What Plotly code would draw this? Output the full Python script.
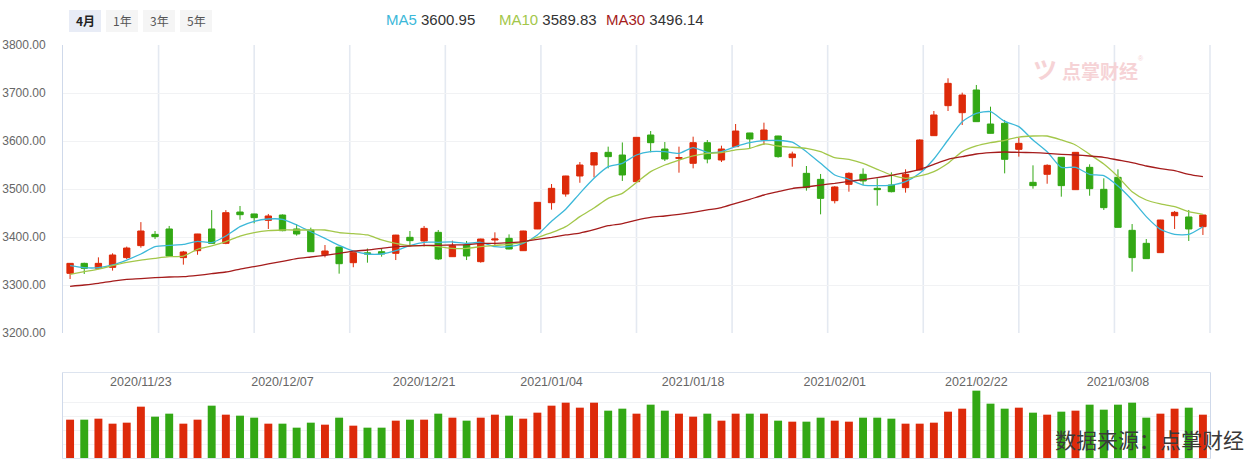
import plotly.graph_objects as go

dates = ["2020-11-16","2020-11-17","2020-11-18","2020-11-19","2020-11-20","2020-11-23","2020-11-24","2020-11-25","2020-11-26","2020-11-27",
         "2020-11-30","2020-12-01","2020-12-02","2020-12-03","2020-12-04","2020-12-07","2020-12-08","2020-12-09","2020-12-10","2020-12-11",
         "2020-12-14","2020-12-15","2020-12-16","2020-12-17","2020-12-18","2020-12-21","2020-12-22","2020-12-23","2020-12-24","2020-12-25",
         "2020-12-28","2020-12-29","2020-12-30","2020-12-31","2021-01-04","2021-01-05","2021-01-06","2021-01-07","2021-01-08","2021-01-11",
         "2021-01-12","2021-01-13","2021-01-14","2021-01-15","2021-01-18","2021-01-19","2021-01-20","2021-01-21","2021-01-22","2021-01-25",
         "2021-01-26","2021-01-27","2021-01-28","2021-01-29","2021-02-01","2021-02-02","2021-02-03","2021-02-04","2021-02-05","2021-02-08",
         "2021-02-09","2021-02-10","2021-02-18","2021-02-19","2021-02-22","2021-02-23","2021-02-24","2021-02-25","2021-02-26","2021-03-01",
         "2021-03-02","2021-03-03","2021-03-04","2021-03-05","2021-03-08","2021-03-09","2021-03-10","2021-03-11","2021-03-12","2021-03-15",
         "2021-03-16"]

open_ = [3324.3,3345.1,3334.7,3336.8,3357.0,3382.0,3405.5,3416.7,3357.0,3371.5,
         3416.7,3386.8,3452.0,3448.0,3434.7,3445.8,3416.7,3414.6,3363.2,3379.0,
         3346.5,3367.0,3369.4,3366.0,3399.3,3391.7,3409.7,3359.0,3383.3,3348.6,
         3393.7,3397.2,3371.5,3416.7,3471.5,3489.6,3527.1,3550.0,3576.4,3570.8,
         3515.3,3612.5,3583.3,3563.9,3553.5,3596.5,3560.4,3588.2,3616.7,3602.1,
         3610.4,3565.3,3532.6,3520.1,3475.7,3509.7,3530.6,3501.4,3508.3,3502.8,
         3539.6,3611.1,3673.6,3659.0,3706.3,3635.4,3636.8,3582.6,3513.9,3530.6,
         3566.0,3498.6,3545.1,3499.3,3524.3,3413.9,3386.8,3367.4,3444.4,3441.7,
         3421.5]
high = [3345.5,3346.5,3357.6,3366.0,3380.0,3431.0,3412.5,3423.0,3371.0,3406.5,
        3456.0,3456.0,3464.6,3448.5,3448.0,3447.0,3427.0,3419.5,3383.3,3379.5,
        3367.8,3376.0,3376.4,3404.5,3412.5,3423.0,3414.6,3392.4,3391.7,3396.5,
        3409.7,3405.5,3413.0,3472.5,3510.4,3527.5,3556.2,3576.2,3588.2,3597.0,
        3608.0,3620.8,3597.9,3588.2,3609.0,3602.0,3590.3,3635.4,3617.0,3638.2,
        3610.8,3577.8,3547.9,3531.3,3506.0,3534.7,3543.0,3522.2,3534.7,3541.0,
        3603.5,3662.5,3730.6,3700.7,3716.7,3671.5,3643.8,3607.0,3549.3,3551.4,
        3566.3,3576.8,3551.4,3522.2,3541.0,3427.0,3395.8,3435.8,3454.2,3456.3,
        3446.2]
low = [3312.5,3323.0,3333.0,3330.0,3354.0,3377.8,3395.8,3360.0,3342.4,3363.0,
       3386.0,3385.0,3436.0,3428.5,3416.7,3412.0,3402.8,3369.0,3357.6,3323.6,
       3337.0,3346.5,3359.0,3352.0,3381.0,3380.0,3352.0,3358.5,3352.0,3346.5,
       3383.3,3374.5,3371.0,3416.5,3457.0,3484.0,3513.0,3524.3,3543.0,3516.7,
       3515.0,3576.4,3558.3,3534.0,3543.0,3553.5,3556.2,3587.8,3584.7,3591.7,
       3565.3,3546.5,3496.5,3447.2,3470.0,3494.4,3508.3,3465.3,3493.0,3492.4,
       3539.0,3610.8,3662.5,3633.3,3640.0,3615.5,3532.6,3567.4,3500.7,3511.0,
       3484.0,3498.3,3486.0,3456.3,3420.0,3327.8,3354.5,3367.0,3416.7,3391.7,
       3404.2]
close = [3345.1,3334.7,3345.1,3362.5,3377.0,3412.5,3400.7,3360.4,3368.8,3406.3,
         3386.8,3450.7,3446.5,3440.3,3443.8,3413.2,3406.3,3369.4,3370.8,3344.4,
         3367.4,3364.6,3364.6,3404.0,3392.4,3418.0,3354.2,3381.9,3360.4,3395.8,
         3395.8,3375.0,3412.5,3472.2,3501.4,3527.1,3550.0,3575.7,3567.4,3529.2,
         3607.6,3596.5,3562.5,3565.3,3596.5,3562.5,3583.3,3620.8,3604.2,3622.9,
         3567.4,3572.9,3502.8,3480.5,3504.2,3532.6,3516.7,3498.6,3494.4,3530.6,
         3602.1,3654.2,3720.1,3695.8,3640.3,3616.0,3561.8,3595.1,3507.0,3549.3,
         3507.0,3576.4,3500.7,3461.1,3420.1,3357.0,3354.9,3435.4,3451.4,3416.7,
         3445.8]

ma5 = [3340.3,3336.0,3336.0,3341.7,3352.0,3364.6,3380.0,3382.6,3384.7,3391.0,
       3388.2,3402.0,3421.5,3432.6,3437.5,3436.8,3425.0,3411.0,3397.2,3382.6,
       3371.0,3364.6,3364.6,3371.5,3382.0,3389.0,3389.0,3389.6,3386.8,3389.0,
       3380.0,3380.0,3386.8,3404.2,3433.0,3458.0,3491.0,3522.2,3546.5,3553.5,
       3570.8,3577.8,3577.8,3574.3,3586.1,3576.4,3577.8,3588.2,3596.5,3600.7,
       3601.0,3597.5,3577.8,3553.5,3529.2,3520.1,3508.3,3507.0,3508.3,3515.3,
       3532.6,3562.5,3602.1,3640.3,3657.6,3661.1,3641.0,3629.9,3602.1,3577.8,
       3545.1,3545.1,3530.6,3527.8,3506.3,3477.1,3442.4,3416.0,3405.5,3405.5,
       3421.5]
ma10 = [3322.0,3327.8,3333.3,3340.3,3347.2,3352.0,3355.6,3359.0,3360.4,3374.3,
        3381.3,3390.3,3402.0,3409.0,3413.2,3414.6,3414.6,3414.6,3414.6,3409.0,
        3407.0,3404.2,3393.8,3386.8,3382.0,3382.0,3380.0,3376.4,3376.4,3380.0,
        3382.6,3384.7,3388.6,3399.3,3409.0,3421.5,3442.4,3460.4,3480.5,3491.0,
        3513.5,3536.1,3550.0,3560.4,3568.8,3574.3,3575.7,3581.3,3584.7,3593.8,
        3589.6,3587.0,3584.7,3577.8,3565.3,3561.8,3553.5,3541.0,3529.2,3522.2,
        3527.1,3536.1,3553.5,3577.8,3589.6,3596.5,3601.4,3608.3,3610.4,3610.4,
        3602.1,3591.7,3572.2,3552.1,3525.7,3494.4,3477.1,3468.8,3463.2,3452.8,
        3447.2]
ma30 = [3297.2,3300.0,3303.5,3308.3,3311.8,3313.2,3315.3,3316.7,3317.4,3320.1,
        3323.6,3327.1,3333.3,3338.2,3343.8,3349.3,3354.9,3358.3,3361.8,3366.0,
        3370.5,3372.9,3376.4,3380.0,3381.3,3382.6,3382.6,3383.3,3384.0,3386.8,
        3386.8,3388.2,3390.3,3395.1,3399.3,3404.2,3408.3,3415.3,3423.6,3428.0,
        3435.4,3441.0,3443.8,3447.2,3451.4,3456.3,3461.1,3470.1,3478.5,3487.5,
        3494.4,3501.0,3504.2,3508.3,3511.8,3516.0,3519.4,3523.6,3528.5,3534.0,
        3541.0,3551.4,3561.8,3567.4,3572.9,3575.7,3577.1,3576.4,3575.7,3574.3,
        3572.2,3570.8,3568.8,3566.0,3560.4,3554.9,3547.9,3542.4,3538.2,3530.6,
        3525.7]

volume = [115,115,118,103,106,154,124,133,103,115,
          157,130,127,121,103,103,91,106,100,121,
          97,91,91,112,115,115,133,121,112,121,
          130,127,118,136,157,166,151,166,142,148,
          133,160,142,133,124,133,112,133,133,133,
          112,109,109,121,112,109,121,121,118,103,
          103,106,139,148,202,163,148,151,136,130,
          139,142,160,145,160,166,121,133,148,151,
          130]

tick_dates = ["2020-11-23","2020-12-07","2020-12-21","2021-01-04","2021-01-18","2021-02-01","2021-02-22","2021-03-08"]
tick_text = ["2020/11/23","2020/12/07","2020/12/21","2021/01/04","2021/01/18","2021/02/01","2021/02/22","2021/03/08"]

legend_names = ["MA5", "MA10", "MA30"]
legend_values = ["3600.95", "3589.83", "3496.14"]
period_buttons = ["4月", "1年", "3年", "5年"]

RED = "#dd2a0a"
GREEN = "#33a815"
MA_COLORS = ["#3cb8d9", "#a3c74a", "#a51c1c"]
FONT = "Liberation Sans, Arial, Noto Sans CJK SC, sans-serif"
CJK = "Noto Sans CJK SC, Liberation Sans, sans-serif"

W, H = 1250, 459
L, R = 63, 1210
def px_x(p):
    return (p - L) / (R - L)
def px_y(p):
    return 1 - p / H

fig = go.Figure()

fig.add_trace(go.Candlestick(
    x=dates, open=open_, high=high, low=low, close=close,
    increasing=dict(line=dict(color=RED, width=1), fillcolor=RED),
    decreasing=dict(line=dict(color=GREEN, width=1), fillcolor=GREEN),
    whiskerwidth=0, xaxis="x", yaxis="y", hoverinfo="skip", showlegend=False))

for name, vals, col in zip(legend_names, [ma5, ma10, ma30], MA_COLORS):
    fig.add_trace(go.Scatter(x=dates, y=vals, mode="lines", name=name,
                             line=dict(color=col, width=1.3, shape="spline", smoothing=0.6),
                             xaxis="x", yaxis="y", hoverinfo="skip", showlegend=False))

vol_colors = [RED if c >= o else GREEN for o, c in zip(open_, close)]
fig.add_trace(go.Bar(x=dates, y=volume, marker=dict(color=vol_colors, line=dict(width=0)),
                     width=0.56, xaxis="x2", yaxis="y2", hoverinfo="skip", showlegend=False))

xr = [-0.5, len(dates) - 0.5]
fig.update_layout(
    width=W, height=H,
    margin=dict(l=L, r=W - R, t=0, b=0, autoexpand=False),
    paper_bgcolor="white", plot_bgcolor="white",
    font=dict(family=FONT, size=12, color="#666"),
    boxgap=0.36,
    xaxis=dict(type="category", range=xr, domain=[0, 1], anchor="y", automargin=False,
               showticklabels=False, showgrid=False, zeroline=False,
               rangeslider=dict(visible=False), fixedrange=True),
    yaxis=dict(domain=[px_y(333), px_y(45)], range=[3200, 3800], dtick=100, automargin=False,
               tickformat=".2f", showgrid=True, gridcolor="#f1f2f4", gridwidth=1,
               showline=True, linecolor="#cfd9ea", linewidth=1, zeroline=False,
               ticks="", ticklabelstandoff=14,
               tickfont=dict(size=12, color="#666", family=FONT), fixedrange=True),
    xaxis2=dict(type="category", range=xr, domain=[0, 1], anchor="y2", side="top", automargin=False,
                tickmode="array", tickvals=tick_dates, ticktext=tick_text,
                ticklabelposition="inside", ticklabelstandoff=4, ticks="", showgrid=False, zeroline=False,
                showline=True, linecolor="#dde4ef", linewidth=1, mirror=True,
                tickfont=dict(size=12.5, color="#666", family=FONT), fixedrange=True),
    yaxis2=dict(domain=[px_y(458), px_y(373)], range=[0, 255], dtick=41.5, automargin=False,
                showticklabels=False, showgrid=True, gridcolor="#f1f2f4",
                showline=True, linecolor="#cfd9ea", linewidth=1, mirror=True,
                zeroline=False, ticks="", fixedrange=True),
    hovermode=False,
)

shapes = []
# vertical grid lines of the price panel (12 equal divisions)
for k in range(1, 13):
    shapes.append(dict(type="line", xref="x domain", yref="y domain", x0=k / 12, x1=k / 12,
                       y0=0, y1=1, line=dict(color="#e4e9f1", width=1.6), layer="below"))
# period buttons
btn_x = [(69, 101), (106, 138), (143, 175), (180, 212)]
for i, (a, b) in enumerate(btn_x):
    shapes.append(dict(type="rect", xref="paper", yref="paper", x0=px_x(a), x1=px_x(b),
                       y0=px_y(32), y1=px_y(10), line=dict(width=0),
                       fillcolor="#e8ecf6" if i == 0 else "#f5f5f5", layer="below"))
fig.update_layout(shapes=shapes)

ann = []
for i, (a, b) in enumerate(btn_x):
    label = period_buttons[i]
    ann.append(dict(xref="paper", yref="paper", x=px_x((a + b) / 2), y=px_y(21),
                    text=f"<b>{label}</b>" if i == 0 else label, showarrow=False,
                    font=dict(family=CJK, size=12, color="#222" if i == 0 else "#555"),
                    xanchor="center", yanchor="middle"))
leg_x = [384, 497, 604]
for name, val, col, lx in zip(legend_names, legend_values, MA_COLORS, leg_x):
    ann.append(dict(xref="paper", yref="paper", x=px_x(lx), y=px_y(19),
                    text=f"<span style='color:{col}'>{name}</span> <span style='color:#333'>{val}</span>",
                    showarrow=False, xanchor="left", yanchor="middle",
                    font=dict(family=FONT, size=15)))
# watermark
ann.append(dict(xref="paper", yref="paper", x=px_x(1100), y=px_y(70), text="<b>点掌财经</b>",
                showarrow=False, xanchor="center", yanchor="middle",
                font=dict(family=CJK, size=19, color="#f6d3d6")))
ann.append(dict(xref="paper", yref="paper", x=px_x(1045), y=px_y(68), text="<b>ツ</b>",
                showarrow=False, xanchor="center", yanchor="middle",
                font=dict(family=CJK, size=24, color="#f6d3d6")))
ann.append(dict(xref="paper", yref="paper", x=px_x(1141), y=px_y(58), text="®",
                showarrow=False, xanchor="center", yanchor="middle",
                font=dict(family=FONT, size=7, color="#f6d3d6")))
ann.append(dict(xref="paper", yref="paper", x=px_x(1246), y=px_y(439), text="数据来源：点掌财经",
                showarrow=False, xanchor="right", yanchor="middle",
                font=dict(family=CJK, size=21, color="#3a3a3a")))
fig.update_layout(annotations=ann)

fig.write_html("out.html", config=dict(displayModeBar=False))
